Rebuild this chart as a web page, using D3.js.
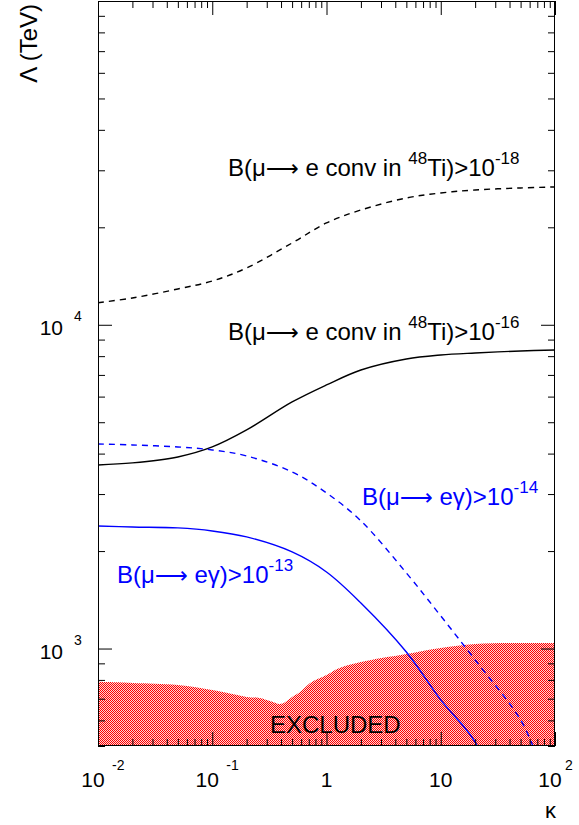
<!DOCTYPE html>
<html><head><meta charset="utf-8">
<script src="https://cdn.jsdelivr.net/npm/d3@7"></script>
<style>
html,body{margin:0;padding:0;background:#fff;}
svg text{font-family:"Liberation Sans",Arial,Helvetica,sans-serif;}
</style></head>
<body><svg id="c" width="579" height="825"></svg>
<script>
// ---- data ----
const kappa = [0.01,0.02,0.05,0.1,0.2,0.5,1,2,5,10,20,50,100];
const convTi18 = [11700,12100,12900,13650,14980,17890,20630,22620,24640,25530,26080,26460,26650];
const convTi16 = [3690,3744,3906,4194,4733,5775,6518,7251,7842,8067,8184,8302,8360];
const megKappa14 = [0.01,0.02,0.05,0.1,0.2,0.5,1,2,5,10,20,50,70];
const meg14 = [4284,4254,4194,4106,3935,3512,3024,2479,1712,1261,922,602,462];
const megKappa13 = [0.01,0.02,0.05,0.1,0.2,0.5,1,2,5,10,20,30];
const meg13 = [2391,2374,2358,2308,2212,1988,1724,1383,976,694,514,355];
const exclKappa = [0.01,0.02,0.05,0.1,0.15,0.2,0.26,0.32,0.4,0.5,0.59,0.72,1,1.3,2,5,10,20,50,100];
const exclTop = [789,783,772,745,724,709,704,689,675,709,735,783,829,871,909,962,1004,1033,1040,1040];
const xMajor = [0.01,0.1,1,10,100];
const xTickBase = ["10","10","1","10","10"];
const xTickExp = ["-2","-1","","","2"];
const yMajor = [1000,10000];
const yTickBase = ["10","10"];
const yTickExp = ["3","4"];
const xDomain = [0.01,100];
const yDomain = [500,100000];

// ---- layout ----
const L=98, R=555, T=1, B=746;
const svg = d3.select("#c");
const x = d3.scaleLog().domain(xDomain).range([L,R]);
const y = d3.scaleLog().domain(yDomain).range([B,T]);

const defs = svg.append("defs");
defs.append("clipPath").attr("id","clip").append("rect")
  .attr("x",L).attr("y",T).attr("width",R-L).attr("height",B-T);
const pat = defs.append("pattern").attr("id","chk").attr("patternUnits","userSpaceOnUse")
  .attr("width",2).attr("height",2);
pat.append("rect").attr("width",2).attr("height",2).attr("fill","#ffd4d4");
pat.append("rect").attr("width",1).attr("height",1).attr("fill","#ff0000");
pat.append("rect").attr("x",1).attr("y",1).attr("width",1).attr("height",1).attr("fill","#ff0000");

const g = svg.append("g").attr("clip-path","url(#clip)");

// excluded region
const area = d3.area().x(d=>x(d[0])).y0(y(yDomain[0])).y1(d=>y(d[1])).curve(d3.curveCatmullRom.alpha(0.5));
g.append("path").datum(exclKappa.map((k,i)=>[k,exclTop[i]]))
  .attr("d",area).attr("fill","url(#chk)");

const line = d3.line().x(d=>x(d[0])).y(d=>y(d[1])).curve(d3.curveCatmullRom.alpha(0.5));
function drawLine(ks, vs, color, dash){
  g.append("path").datum(ks.map((k,i)=>[k,vs[i]]))
    .attr("d",line).attr("fill","none").attr("stroke",color)
    .attr("stroke-width",1.4).attr("stroke-dasharray",dash||null);
}
drawLine(kappa, convTi18, "#000", "6,5");
drawLine(kappa, convTi16, "#000");
drawLine(megKappa14, meg14, "#0000ff", "6,5");
drawLine(megKappa13, meg13, "#0000ff");

// ---- axes (ticks inside, on all four sides) ----
function minorOf(scale, majors){ return scale.ticks().filter(t=>!majors.some(m=>Math.abs(m-t)/m<1e-6)); }
const xMinor = minorOf(x, xMajor);
const yMinor = minorOf(y, yMajor.concat([100000]));
const ax = svg.append("g").attr("stroke","#000").attr("stroke-width",1).attr("fill","none");
function tickGroup(gen, vals, size, transform){
  ax.append("g").attr("transform",transform)
    .call(gen.tickValues(vals).tickSizeInner(size).tickSizeOuter(0).tickFormat(""))
    .call(s=>s.select(".domain").remove());
}
tickGroup(d3.axisBottom(x), xMajor, -14, `translate(0,${B})`);
tickGroup(d3.axisBottom(x), xMinor, -7, `translate(0,${B})`);
tickGroup(d3.axisTop(x), xMajor, -14, `translate(0,${T})`);
tickGroup(d3.axisTop(x), xMinor, -7, `translate(0,${T})`);
tickGroup(d3.axisLeft(y), yMajor, -14, `translate(${L},0)`);
tickGroup(d3.axisLeft(y), yMinor, -7, `translate(${L},0)`);
tickGroup(d3.axisRight(y), yMajor, -14, `translate(${R},0)`);
tickGroup(d3.axisRight(y), yMinor, -7, `translate(${R},0)`);
svg.selectAll(".tick line").attr("stroke","#000");
svg.selectAll(".tick text").remove();
svg.append("rect").attr("x",L+0.5).attr("y",T+0.5).attr("width",R-L-1).attr("height",B-T-1)
  .attr("fill","none").attr("stroke","#000").attr("stroke-width",1);

// tick labels
xMajor.forEach((v,i)=>{
  const hasExp = xTickExp[i] !== "";
  const cx = x(v) - (hasExp ? 5 : 0);
  svg.append("text").attr("x",cx).attr("y",787).attr("text-anchor","middle")
    .attr("font-size",21).text(xTickBase[i]);
  if(hasExp){
    svg.append("text").attr("x",cx+ (xTickExp[i][0]==="-"?19:15)).attr("y",770)
      .attr("font-size",14).text(xTickExp[i]);
  }
});
yMajor.forEach((v,i)=>{
  svg.append("text").attr("x",63).attr("y",y(v)+10).attr("text-anchor","end")
    .attr("font-size",21).text(yTickBase[i]);
  svg.append("text").attr("x",74).attr("y",y(v)-4)
    .attr("font-size",14).text(yTickExp[i]);
});

// axis titles
svg.append("text").attr("x",556).attr("y",818).attr("text-anchor","end")
  .attr("font-size",22).attr("font-family","Liberation Serif").text("κ");
svg.append("text").attr("transform","translate(37,4) rotate(-90)").attr("text-anchor","end")
  .attr("font-size",24).text("Λ (TeV)");

// curve labels
function label(xp, yp, color, parts){
  const t = svg.append("text").attr("x",xp).attr("y",yp).attr("fill",color).attr("font-size",24);
  parts.forEach(p=>{
    const s = t.append("tspan").text(p.t);
    if(p.sup){ s.attr("font-size",17).attr("dy",-12); }
    else if(p.down){ s.attr("dy",12); }
    if(p.arrow){ s.attr("font-family","DejaVu Sans").attr("font-size",23); }
  });
}
label(228,176,"#000",[{t:"B(μ"},{t:"⟶",arrow:true},{t:" e conv in "},{t:"48",sup:true},{t:"Ti)>10",down:true},{t:"-18",sup:true}]);
label(228,340,"#000",[{t:"B(μ"},{t:"⟶",arrow:true},{t:" e conv in "},{t:"48",sup:true},{t:"Ti)>10",down:true},{t:"-16",sup:true}]);
label(362,505,"#0000ff",[{t:"B(μ"},{t:"⟶",arrow:true},{t:" eγ)>10"},{t:"-14",sup:true}]);
label(117,583,"#0000ff",[{t:"B(μ"},{t:"⟶",arrow:true},{t:" eγ)>10"},{t:"-13",sup:true}]);
svg.append("text").attr("x",270).attr("y",733).attr("font-size",24).text("EXCLUDED");
</script></body></html>
